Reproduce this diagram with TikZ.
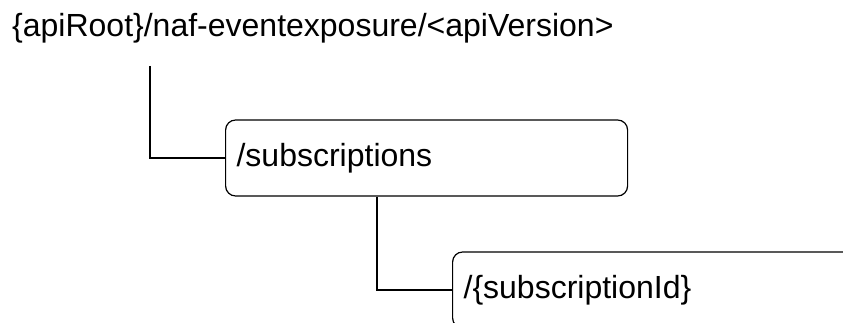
\documentclass[tikz,border=0pt]{standalone}
\usepackage{fontspec}
\setmainfont{Liberation Sans}
\tikzset{
  res/.style={draw, line width=1.2pt, rounded corners=10pt, minimum height=76pt,
    inner xsep=11pt, align=left, font=\fontsize{32}{36}\selectfont},
  link/.style={line width=1.2pt}
}
\begin{document}
\begin{tikzpicture}[x=1pt,y=-1pt]
  \clip (0,0) rectangle (843,323);
  \node [anchor=base west, inner sep=0pt, font=\fontsize{32}{36}\selectfont] (root) at (12,37)
    {\{apiRoot\}/naf-eventexposure/<apiVersion>};
  \coordinate (rootdrop) at (150,66);
  \node [res, anchor=west, text width=380pt] (subs) at (225,158) {/subscriptions};
  \node [res, anchor=west, text width=380pt] (subid) at (452,290) {/\{subscriptionId\}};
  \draw [link] (rootdrop) |- (subs.west);
  \path (subs.south west) ++(152,0) coordinate (subsdrop);
  \draw [link] (subsdrop) |- (subid.west);
\end{tikzpicture}
\end{document}
